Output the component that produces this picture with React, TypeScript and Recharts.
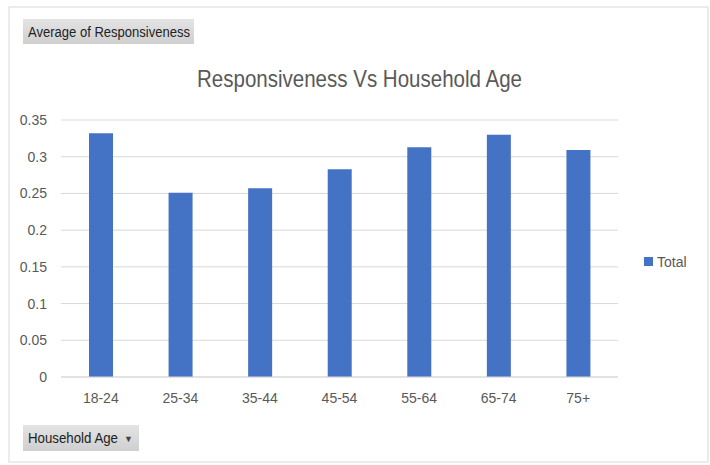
import { BarChart, Bar, XAxis, YAxis, CartesianGrid } from 'recharts';

const ageGroups = ['18-24', '25-34', '35-44', '45-54', '55-64', '65-74', '75+'];
const totals = [0.332, 0.251, 0.257, 0.283, 0.313, 0.33, 0.309];
const yTicks = [0, 0.05, 0.1, 0.15, 0.2, 0.25, 0.3, 0.35];
const seriesName = 'Total';

const data = ageGroups.map((age, i) => ({ age, total: totals[i] }));

const font = "'Liberation Sans', Arial, sans-serif";
const grey = '#595959';
const blue = '#4472c4';

function App() {
	return (
		<div style={{ position: 'absolute', left: 0, top: 0, width: 710, height: 465, background: '#fff' }}>
			<BarChart width={710} height={465} data={data} margin={{ top: 120, right: 92, left: 0, bottom: 58 }}>
				<CartesianGrid vertical={false} stroke="#d9d9d9" />
				<XAxis
					dataKey="age"
					height={30}
					axisLine={{ stroke: '#d9d9d9' }}
					tickLine={false}
					tickMargin={10}
					tick={{ fill: grey, fontSize: 14, fontFamily: font }}
				/>
				<YAxis
					width={61}
					domain={[0, 0.35]}
					ticks={yTicks}
					axisLine={false}
					tickLine={false}
					tickMargin={8}
					tick={{ fill: grey, fontSize: 14, fontFamily: font }}
				/>
				<Bar dataKey="total" name={seriesName} fill={blue} barSize={24} isAnimationActive={false} />
			</BarChart>
			<svg width={710} height={465} style={{ position: 'absolute', left: 0, top: 0, pointerEvents: 'none' }}>
				<rect x={9} y={7} width={699} height={455} fill="none" stroke="#d9d9d9" />
				<text x={197} y={87} fontSize={24} fill={grey} fontFamily={font} textLength={325} lengthAdjust="spacingAndGlyphs">
					Responsiveness Vs Household Age
				</text>
				<defs>
					<linearGradient id="btn" x1="0" y1="0" x2="0" y2="1">
						<stop offset="0" stopColor="#e4e4e4" />
						<stop offset="1" stopColor="#cfcfcf" />
					</linearGradient>
				</defs>
				<rect x={23} y={19} width={171} height={25} fill="url(#btn)" />
				<text x={28} y={37} fontSize={14} fill="#222" fontFamily={font} textLength={162} lengthAdjust="spacingAndGlyphs">
					Average of Responsiveness
				</text>
				<rect x={23} y={425} width={116} height={26} fill="url(#btn)" />
				<text x={28} y={443} fontSize={14} fill="#222" fontFamily={font} textLength={90} lengthAdjust="spacingAndGlyphs">
					Household Age
				</text>
				<text x={124} y={442} fontSize={9} fill="#444" fontFamily={font}>
					▼
				</text>
				<rect x={644} y={257} width={9} height={9} fill={blue} />
				<text x={657} y={267} fontSize={14} fill={grey} fontFamily={font}>
					{seriesName}
				</text>
			</svg>
		</div>
	);
}

export default App;
